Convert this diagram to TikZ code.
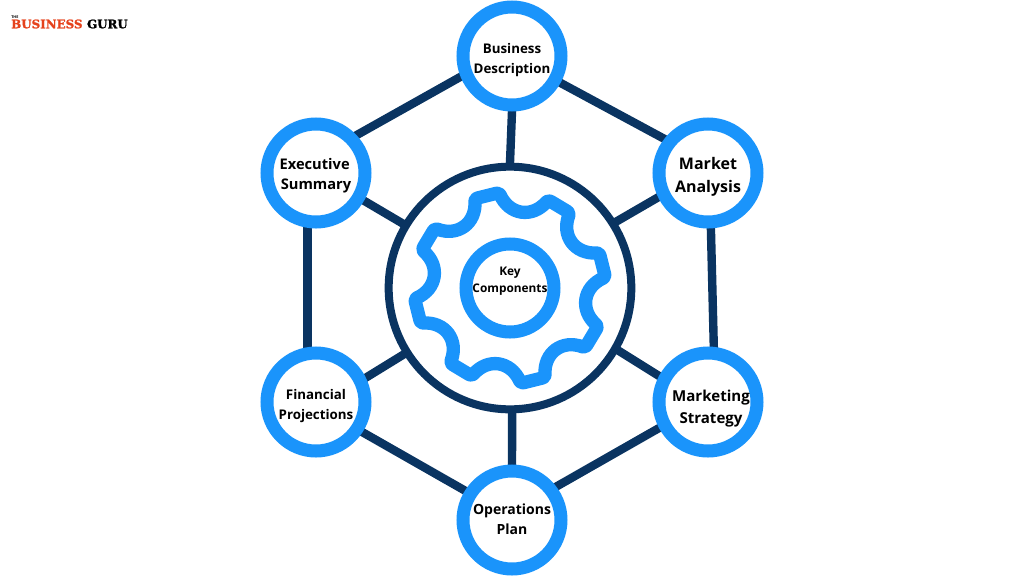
\documentclass[tikz,border=0pt]{standalone}
\usepackage{fontspec}
\setmainfont{Open Sans}
\newfontfamily\logofont[BoldFeatures={FakeBold=1.6}]{DejaVu Serif}
\usetikzlibrary{backgrounds, positioning}
\definecolor{ringblue}{HTML}{1A94FB}
\definecolor{linknavy}{HTML}{0A3461}
\definecolor{logored}{HTML}{E5421C}
\tikzset{
  drop/.style={execute at begin node={\rule{0pt}{#1}},execute at end node={\strut}},
  topic/.style={circle,draw=ringblue,fill=white,line width=9.75pt,minimum size=73.5pt,inner sep=-12pt,align=center,font=\bfseries\fontsize{10}{15}\selectfont},
  link/.style={draw=linknavy,line width=6.3pt,shorten <=-2pt,shorten >=-2pt},
}
\begin{document}
\begin{tikzpicture}[x=0.75pt,y=0.75pt]
  \useasboundingbox (-510,-288) rectangle (514,288);
  % hub with gear
  \node[circle,draw=linknavy,fill=white,line width=6pt,minimum size=182pt] (hub) at (0,0) {};
  \draw[ringblue,line width=10pt,line join=round,rounded corners=2pt]
    (96.5:96)
    \foreach \a in {81.5,36.5,-8.5,-53.5,-98.5,-143.5,-188.5}{
      .. controls ({\a+9}:73) and ({\a-9}:73) .. ({\a-15}:96) -- ({\a-30}:96)
    } .. controls (-224.5:73) and (-242.5:73) .. (-248.5:96) -- cycle;
  \node[circle,draw=ringblue,line width=9.75pt,minimum size=66pt,inner sep=-12pt,align=center,font=\bfseries\fontsize{8.9}{12.75}\selectfont,execute at begin node={\strut},execute at end node={\rule[-13pt]{0pt}{1pt}}] (core) at (0,0) {Key\\Components};
  % the six topics
  \node[topic,drop=30.1pt] (desc) at (2,232) {Business\\Description};
  \node[topic,drop=33.6pt,font=\bfseries\fontsize{12}{17}\selectfont] (market) at (198,115) {Market\\Analysis};
  \node[topic,drop=37pt,font=\bfseries\fontsize{11.3}{16.5}\selectfont] (strategy) at (198,-114) {\hspace*{4.5pt}Marketing\\\hspace*{4.5pt}Strategy};
  \node[topic,drop=25.5pt,font=\bfseries\fontsize{10.5}{15}\selectfont] (ops) at (2,-232) {Operations\\Plan};
  \node[topic,drop=30.1pt] (finance) at (-194,-114) {Financial\\Projections};
  \node[topic,drop=29.7pt,font=\bfseries\fontsize{11}{15.5}\selectfont] (exec) at (-194,115) {Executive\hspace*{2pt}\\Summary};
  \begin{pgfonlayer}{background}
    \draw[link] (desc.south) -- (hub.north);
    \draw[link] (market.206) -- (hub.32);
    \draw[link] (strategy.152) -- (hub.-30);
    \draw[link] (ops.north) -- (hub.271);
    \draw[link] (finance.26) -- (hub.212);
    \draw[link] (exec.-30) -- (hub.149);
    \draw[link] (desc.331) -- (market.142);
    \draw[link] (market.273) -- (strategy.84);
    \draw[link] (strategy.208) -- (ops.37);
    \draw[link] (ops.148) -- (finance.327);
    \draw[link] (finance.99) -- (exec.261);
    \draw[link] (exec.43) -- (desc.202);
  \end{pgfonlayer}
  % logo
  \node[anchor=west,inner sep=0pt,font=\logofont\bfseries\fontsize{8.9}{10}\selectfont,text=logored] (brand) at (-499,264) {BUSINESS};
  \node[right=3pt of brand,inner sep=0pt,font=\logofont\bfseries\fontsize{8.9}{10}\selectfont] (guru) {GURU};
  \node[above=0.6pt of brand.north west,anchor=south west,inner sep=0pt,font=\bfseries\fontsize{2.8}{3}\selectfont] (the) {THE};
\end{tikzpicture}
\end{document}
